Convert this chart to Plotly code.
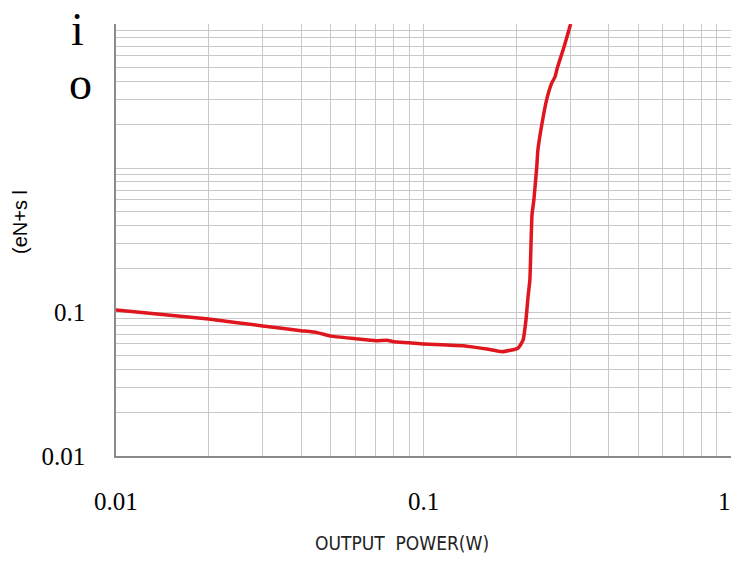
import math
import plotly.graph_objects as go

# Data (log-log)
power_w = [0.01, 0.02, 0.03, 0.04, 0.0451, 0.05, 0.06, 0.07, 0.076, 0.08, 0.09, 0.1,
           0.1192, 0.1345, 0.1609, 0.180, 0.2028, 0.2107, 0.2154, 0.2188, 0.2218,
           0.2253, 0.2285, 0.2335, 0.2355, 0.2424, 0.2517, 0.2612, 0.2677, 0.2723,
           0.2864, 0.301]
thd_pct = [0.1033, 0.0894, 0.080, 0.0742, 0.0719, 0.068, 0.0653, 0.0632, 0.0637, 0.0622,
           0.0612, 0.060, 0.059, 0.0584, 0.0553, 0.053, 0.056, 0.0637, 0.088, 0.128,
           0.167, 0.472, 0.600, 1.016, 1.33, 1.99, 3.01, 3.89, 4.29, 4.95, 6.92, 10.0]

x_ticks = [0.01, 0.1, 1]
x_ticktext = ["0.01", "0.1", "1"]
y_ticks = [0.01, 0.1]
y_ticktext = ["0.01", "0.1"]

x_minor = [m * d for d in (0.01, 0.1) for m in range(2, 10)]
y_minor = [m * d for d in (0.01, 0.1, 1) for m in range(2, 10)] + [1, 10]

fig = go.Figure()
fig.add_trace(go.Scatter(x=power_w, y=thd_pct, mode="lines",
                         line=dict(color="#e0161e", width=3.5, shape="spline", smoothing=0.4),
                         showlegend=False))

grid = "#c8c8c8"
serif = "Liberation Serif, Times New Roman, serif"
fig.update_layout(
    width=733, height=563,
    margin=dict(l=116, r=2, t=24, b=107),
    paper_bgcolor="white", plot_bgcolor="white",
    xaxis=dict(type="log", range=[-2, 0], tickvals=x_ticks, showticklabels=False,
               showgrid=True, gridcolor=grid, gridwidth=1,
               minor=dict(tickvals=x_minor, showgrid=True, gridcolor=grid, gridwidth=1),
               showline=True, linecolor="#8a8a8a", linewidth=1.5, ticks="",
               zeroline=False),
    yaxis=dict(type="log", range=[-2, 1], tickvals=y_ticks, ticktext=y_ticktext,
               showgrid=True, gridcolor=grid, gridwidth=1,
               minor=dict(tickvals=y_minor, showgrid=True, gridcolor=grid, gridwidth=1),
               showline=True, linecolor="#8a8a8a", linewidth=1.5, ticks="",
               tickfont=dict(family=serif, size=25, color="black"),
               ticklabelstandoff=24, zeroline=False),
)

# x tick labels as annotations anchored to data x positions (so the "1" is kept)
for xv, txt in zip(x_ticks, x_ticktext):
    last = xv == x_ticks[-1]
    fig.add_annotation(text=txt, x=math.log10(xv), y=0, xref="x", yref="paper",
                       yshift=-45, showarrow=False,
                       xanchor="right" if last else "center", xshift=2 if last else 0,
                       yanchor="middle",
                       font=dict(family=serif, size=25, color="black"))

pw, ph = 733 - 116 - 2, 563 - 24 - 107
def px(xp):
    return (xp - 116) / pw
def py(yp):
    return (563 - 107 - yp) / ph

fig.add_annotation(text="i", x=px(77), y=py(29), xref="paper", yref="paper", showarrow=False,
                   font=dict(family=serif, size=46, color="black"), xanchor="center", yanchor="middle")
fig.add_annotation(text="o", x=px(80), y=py(83), xref="paper", yref="paper", showarrow=False,
                   font=dict(family=serif, size=46, color="black"), xanchor="center", yanchor="middle")
fig.add_annotation(text="(eN+s l", x=px(20), y=py(222), xref="paper", yref="paper", showarrow=False,
                   textangle=-90, font=dict(family="Liberation Sans, Arial, sans-serif", size=20, color="black"),
                   xanchor="center", yanchor="middle")
fig.add_annotation(text="OUTPUT\u00a0\u00a0POWER(W)", x=px(402), y=py(543), xref="paper", yref="paper",
                   showarrow=False,
                   font=dict(family="DejaVu Sans Condensed, Liberation Mono, monospace", size=19, color="#222"),
                   xanchor="center", yanchor="middle")

fig.write_html("out.html")
